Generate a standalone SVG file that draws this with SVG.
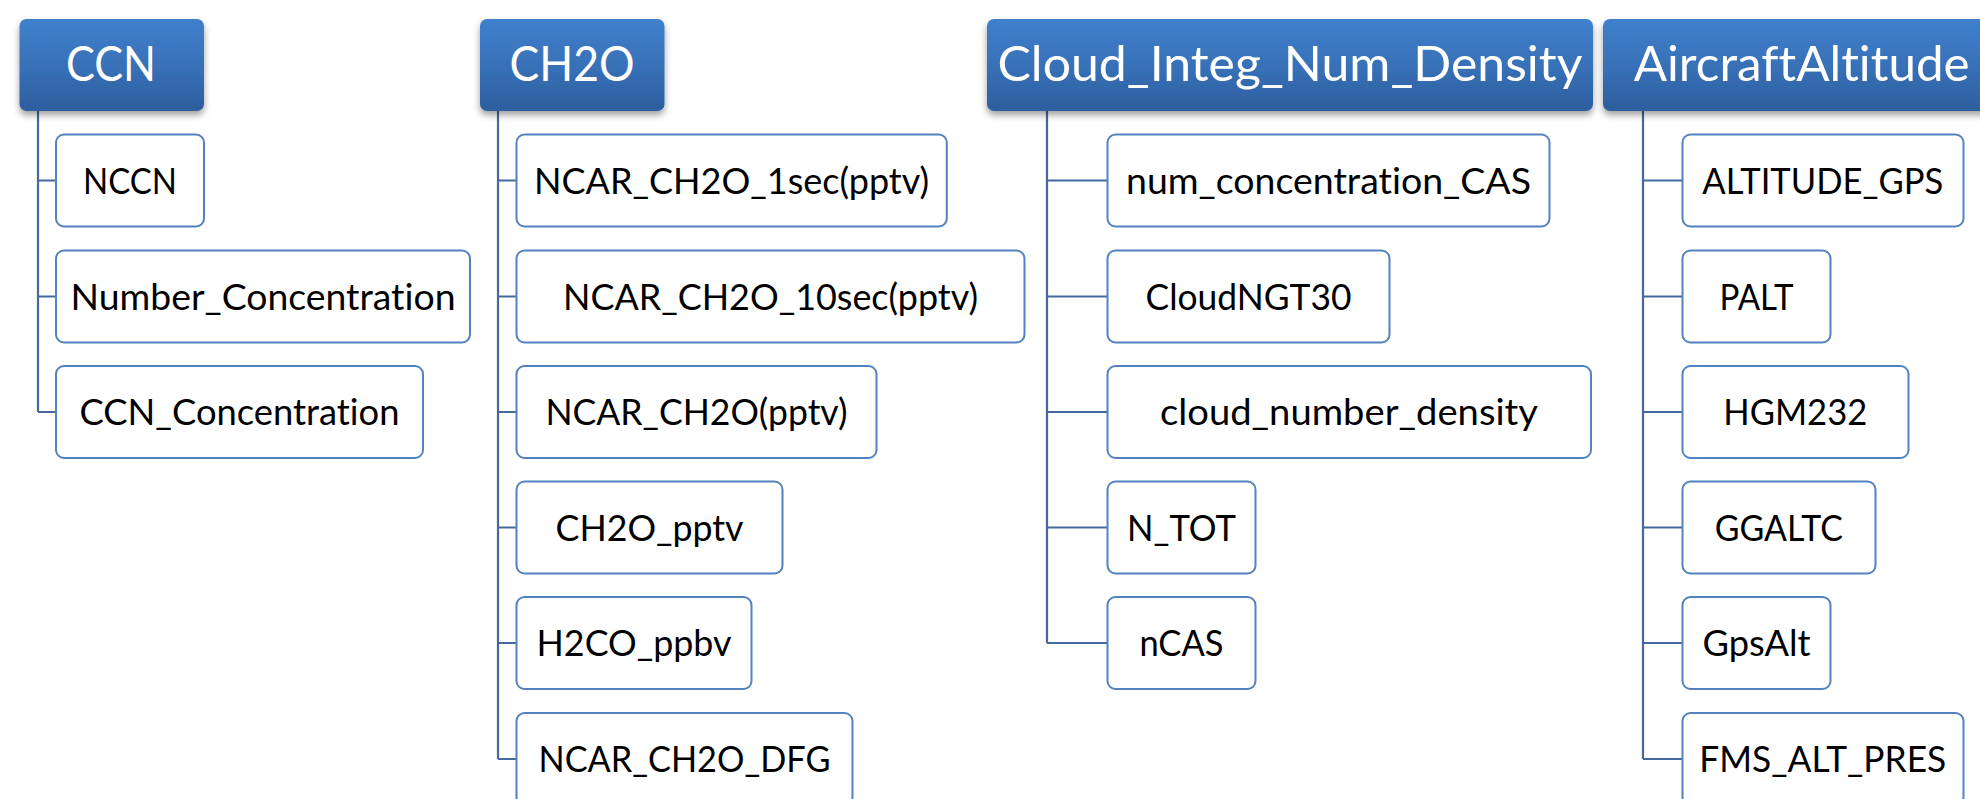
<svg xmlns="http://www.w3.org/2000/svg" width="1980" height="799" viewBox="0 0 1980 799">
<defs>
<linearGradient id="hg" x1="0" y1="0" x2="0" y2="1">
<stop offset="0" stop-color="#3f80cc"/>
<stop offset="0.5" stop-color="#3871b8"/>
<stop offset="1" stop-color="#2d5e9e"/>
</linearGradient>
<filter id="sh" x="-10%" y="-20%" width="120%" height="150%">
<feDropShadow dx="0" dy="4" stdDeviation="3.5" flood-color="#000" flood-opacity="0.38"/>
</filter>
<style>
text{font-variant-ligatures:none;font-feature-settings:"liga" 0,"clig" 0}
.hd{fill:url(#hg);filter:url(#sh)}
.ht{font-family:Lato,"Open Sans",sans-serif;font-size:48px;fill:#fff;text-anchor:middle}
.cb{fill:#fff;stroke:#5382bf;stroke-width:2}
.ct{font-family:Lato,"Open Sans",sans-serif;font-size:36px;fill:#000;text-anchor:middle}
.cn{fill:none;stroke:#44699f;stroke-width:2.2}
</style>
</defs>
<rect width="1980" height="799" fill="#fff"/>
<g id="connectors" class="cn">
<path d="M38 111V412M38 180.5H56M38 296.5H56M38 412H56"/>
<path d="M498 111V759M498 180.5H516.5M498 296.5H516.5M498 412H516.5M498 527.5H516.5M498 643H516.5M498 759H516.5"/>
<path d="M1047 111V643M1047 180.5H1107.5M1047 296.5H1107.5M1047 412H1107.5M1047 527.5H1107.5M1047 643H1107.5"/>
<path d="M1643 111V759M1643 180.5H1682.5M1643 296.5H1682.5M1643 412H1682.5M1643 527.5H1682.5M1643 643H1682.5M1643 759H1682.5"/>
</g>
<g id="h-ccn"><rect class="hd" x="19.5" y="19" width="184.5" height="92" rx="7"/><text class="ht" x="111" y="81" textLength="90" lengthAdjust="spacingAndGlyphs">CCN</text></g>
<g id="h-ch2o"><rect class="hd" x="480" y="19" width="184.5" height="92" rx="7"/><text class="ht" x="572" y="81" textLength="125" lengthAdjust="spacingAndGlyphs">CH2O</text></g>
<g id="h-cloud"><rect class="hd" x="987" y="19" width="606" height="92" rx="7"/><text class="ht" x="1290" y="81" textLength="585" lengthAdjust="spacingAndGlyphs">Cloud_Integ_Num_Density</text></g>
<g id="h-alt"><rect class="hd" x="1603" y="19" width="400" height="92" rx="7"/><text class="ht" x="1801.7" y="81" textLength="336" lengthAdjust="spacingAndGlyphs">AircraftAltitude</text></g>

<g id="n-nccn"><rect class="cb" x="56" y="134.5" width="148" height="92" rx="8"/><text class="ct" x="130" y="193.5" textLength="94" lengthAdjust="spacingAndGlyphs">NCCN</text></g>
<g id="n-numconc"><rect class="cb" x="56" y="250.5" width="414" height="92" rx="8"/><text class="ct" x="263" y="309.5" textLength="385" lengthAdjust="spacingAndGlyphs">Number_Concentration</text></g>
<g id="n-ccnconc"><rect class="cb" x="56" y="366" width="367" height="92" rx="8"/><text class="ct" x="239.5" y="425" textLength="320" lengthAdjust="spacingAndGlyphs">CCN_Concentration</text></g>

<g id="n-ch2o1"><rect class="cb" x="516.5" y="134.5" width="430.3" height="92" rx="8"/><text class="ct" x="731.6" y="193.5" textLength="395" lengthAdjust="spacingAndGlyphs">NCAR_CH2O_1sec(pptv)</text></g>
<g id="n-ch2o10"><rect class="cb" x="516.5" y="250.5" width="508" height="92" rx="8"/><text class="ct" x="770.5" y="309.5" textLength="415" lengthAdjust="spacingAndGlyphs">NCAR_CH2O_10sec(pptv)</text></g>
<g id="n-ch2o"><rect class="cb" x="516.5" y="366" width="360" height="92" rx="8"/><text class="ct" x="696.4" y="425" textLength="302" lengthAdjust="spacingAndGlyphs">NCAR_CH2O(pptv)</text></g>
<g id="n-ch2opptv"><rect class="cb" x="516.5" y="481.5" width="266" height="92" rx="8"/><text class="ct" x="649.5" y="540.5" textLength="188" lengthAdjust="spacingAndGlyphs">CH2O_pptv</text></g>
<g id="n-h2co"><rect class="cb" x="516.5" y="597" width="235" height="92" rx="8"/><text class="ct" x="634" y="656" textLength="195" lengthAdjust="spacingAndGlyphs">H2CO_ppbv</text></g>
<g id="n-dfg"><rect class="cb" x="516.5" y="713" width="336" height="92" rx="8"/><text class="ct" x="684.5" y="772" textLength="292" lengthAdjust="spacingAndGlyphs">NCAR_CH2O_DFG</text></g>

<g id="n-numcas"><rect class="cb" x="1107.5" y="134.5" width="442" height="92" rx="8"/><text class="ct" x="1328.5" y="193.5" textLength="405" lengthAdjust="spacingAndGlyphs">num_concentration_CAS</text></g>
<g id="n-ngt30"><rect class="cb" x="1107.5" y="250.5" width="282" height="92" rx="8"/><text class="ct" x="1248.5" y="309.5" textLength="206" lengthAdjust="spacingAndGlyphs">CloudNGT30</text></g>
<g id="n-cnd"><rect class="cb" x="1107.5" y="366" width="483.5" height="92" rx="8"/><text class="ct" x="1349" y="425" textLength="378" lengthAdjust="spacingAndGlyphs">cloud_number_density</text></g>
<g id="n-ntot"><rect class="cb" x="1107.5" y="481.5" width="148" height="92" rx="8"/><text class="ct" x="1181.5" y="540.5" textLength="109" lengthAdjust="spacingAndGlyphs">N_TOT</text></g>
<g id="n-ncas"><rect class="cb" x="1107.5" y="597" width="148" height="92" rx="8"/><text class="ct" x="1181.5" y="656" textLength="84" lengthAdjust="spacingAndGlyphs">nCAS</text></g>

<g id="n-altgps"><rect class="cb" x="1682.5" y="134.5" width="281" height="92" rx="8"/><text class="ct" x="1822.8" y="193.5" textLength="241" lengthAdjust="spacingAndGlyphs">ALTITUDE_GPS</text></g>
<g id="n-palt"><rect class="cb" x="1682.5" y="250.5" width="148" height="92" rx="8"/><text class="ct" x="1756.5" y="309.5" textLength="74" lengthAdjust="spacingAndGlyphs">PALT</text></g>
<g id="n-hgm"><rect class="cb" x="1682.5" y="366" width="226" height="92" rx="8"/><text class="ct" x="1795.3" y="425" textLength="144" lengthAdjust="spacingAndGlyphs">HGM232</text></g>
<g id="n-ggaltc"><rect class="cb" x="1682.5" y="481.5" width="193" height="92" rx="8"/><text class="ct" x="1778.8" y="540.5" textLength="128" lengthAdjust="spacingAndGlyphs">GGALTC</text></g>
<g id="n-gpsalt"><rect class="cb" x="1682.5" y="597" width="148" height="92" rx="8"/><text class="ct" x="1756.5" y="656" textLength="108" lengthAdjust="spacingAndGlyphs">GpsAlt</text></g>
<g id="n-fms"><rect class="cb" x="1682.5" y="713" width="281" height="92" rx="8"/><text class="ct" x="1822.8" y="772" textLength="247" lengthAdjust="spacingAndGlyphs">FMS_ALT_PRES</text></g>
</svg>
